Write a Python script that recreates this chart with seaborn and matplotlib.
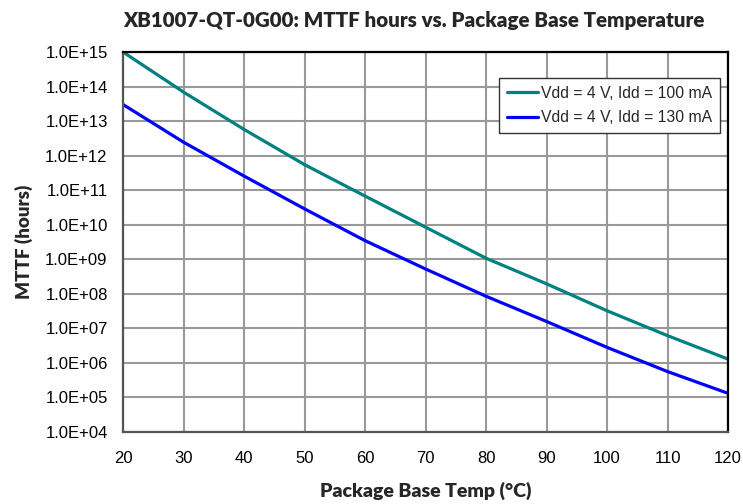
import numpy as np
import pandas as pd
import matplotlib
matplotlib.use("Agg")
import matplotlib.pyplot as plt
import seaborn as sns
from matplotlib.ticker import FixedLocator, FixedFormatter, NullLocator

# Data (log10 of MTTF hours)
temps = [20, 30, 40, 50, 60, 70, 80, 90, 100, 110, 120]
log_mttf_100mA = [15.0, 13.84, 12.76, 11.74, 10.83, 9.93, 9.03, 8.29, 7.51, 6.79, 6.11]
log_mttf_130mA = [13.48, 12.39, 11.41, 10.46, 9.54, 8.72, 7.93, 7.20, 6.45, 5.75, 5.12]
series_names = ["Vdd = 4 V, Idd = 100 mA", "Vdd = 4 V, Idd = 130 mA"]
series_colors = ["#008080", "#0000FF"]
x_ticks = [20, 30, 40, 50, 60, 70, 80, 90, 100, 110, 120]
y_exponents = list(range(4, 16))
y_tick_labels = ["1.0E+%02d" % e for e in y_exponents]

df = pd.DataFrame({
    "temp": temps * 2,
    "mttf": [10 ** v for v in log_mttf_100mA] + [10 ** v for v in log_mttf_130mA],
    "series": [series_names[0]] * len(temps) + [series_names[1]] * len(temps),
})

sns.set_style("white")
plt.rcParams["font.family"] = ["Liberation Sans", "DejaVu Sans"]

fig = plt.figure(figsize=(7.43, 5.04), dpi=100)
ax = fig.add_axes([123 / 743, 1 - 432 / 504, 605 / 743, 380 / 504])

sns.lineplot(data=df, x="temp", y="mttf", hue="series", palette=series_colors,
             linewidth=2.3, ax=ax, legend=True)

ax.set_yscale("log")
ax.set_xlim(20, 120)
ax.set_ylim(1e4, 1e15)
ax.yaxis.set_major_locator(FixedLocator([10.0 ** e for e in y_exponents]))
ax.yaxis.set_major_formatter(FixedFormatter(y_tick_labels))
ax.yaxis.set_minor_locator(NullLocator())
ax.set_xticks(x_ticks)
ax.set_xticklabels([str(t) for t in x_ticks])

ax.grid(True, which="major", color="#999999", linewidth=1.5)
ax.set_axisbelow(True)
ax.tick_params(axis="both", which="major", direction="out", length=4, width=1,
               color="#808080", labelsize=12, labelcolor="black")
ax.tick_params(axis="x", pad=10)
ax.tick_params(axis="y", pad=7)

for side in ["top", "right"]:
    ax.spines[side].set_color("black")
    ax.spines[side].set_linewidth(1.6)
for side in ["left", "bottom"]:
    ax.spines[side].set_color("#555555")
    ax.spines[side].set_linewidth(1.6)
for side in ["top", "right", "left", "bottom"]:
    ax.spines[side].set_visible(True)

ax.set_xlabel("Package Base Temp (°C)", fontsize=14, fontweight="heavy",
              family=["Lato", "DejaVu Sans"], labelpad=11)
ax.set_ylabel("MTTF (hours)", fontsize=13.5, fontweight="heavy",
              family=["Lato", "DejaVu Sans"], labelpad=9)
fig.text(414 / 743, 1 - 20 / 504, "XB1007-QT-0G00: MTTF hours vs. Package Base Temperature",
         ha="center", va="center", fontsize=14.8, fontweight="heavy",
         family=["Lato", "DejaVu Sans"])

leg = ax.legend(loc="upper left", bbox_to_anchor=(0.621, 0.932), borderaxespad=0,
                fontsize=11.3, frameon=True, fancybox=False, shadow=False,
                handlelength=2.0, handletextpad=0.2, borderpad=0.5, labelspacing=0.6)
leg.get_frame().set_edgecolor("#333333")
leg.get_frame().set_linewidth(1.0)
leg.get_frame().set_facecolor("white")
leg.get_frame().set_alpha(1)
for line in leg.get_lines():
    line.set_linewidth(2.3)

fig.savefig("out.png", dpi=100)
